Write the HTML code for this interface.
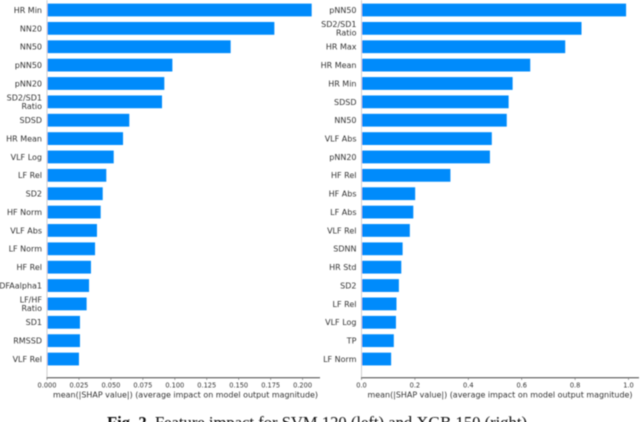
<!DOCTYPE html>
<html>
<head>
<meta charset="utf-8">
<style>
html,body{margin:0;padding:0;background:#fff;width:640px;height:422px;overflow:hidden}
svg{display:block}
text{font-family:"DejaVu Sans","Liberation Sans",sans-serif;fill:#333}
.cap{font-family:"Liberation Serif",serif;fill:#111}
</style>
</head>
<body>
<svg id="fig" xmlns="http://www.w3.org/2000/svg" width="640" height="422" viewBox="0 0 640 422">
<defs><filter id="soft" filterUnits="userSpaceOnUse" x="0" y="0" width="640" height="422"><feGaussianBlur stdDeviation="0.5"/></filter></defs>
<g id="plots" filter="url(#soft)"></g>
<text class="cap" filter="url(#soft)" x="317" y="428" text-anchor="middle" font-size="17" textLength="420" lengthAdjust="spacingAndGlyphs"><tspan font-weight="bold">Fig. 2.</tspan> Feature impact for SVM 120 (left) and XGB 150 (right)</text>
</svg>
<script>
const svmFeatures = ["HR Min","NN20","NN50","pNN50","pNN20","SD2/SD1\nRatio","SDSD","HR Mean","VLF Log","LF Rel","SD2","HF Norm","VLF Abs","LF Norm","HF Rel","DFAalpha1","LF/HF\nRatio","SD1","RMSSD","VLF Rel"];
const svmValues = [0.2071,0.1779,0.1437,0.0981,0.0918,0.0900,0.0644,0.0595,0.0522,0.0464,0.0436,0.0420,0.0391,0.0376,0.0344,0.0329,0.0310,0.0258,0.0258,0.0250];
const svmTicks = ["0.000","0.025","0.050","0.075","0.100","0.125","0.150","0.175","0.200"];
const xgbFeatures = ["pNN50","SD2/SD1\nRatio","HR Max","HR Mean","HR Min","SDSD","NN50","VLF Abs","pNN20","HF Rel","HF Abs","LF Abs","VLF Rel","SDNN","HR Std","SD2","LF Rel","VLF Log","TP","LF Norm"];
const xgbValues = [0.991,0.824,0.763,0.632,0.566,0.551,0.544,0.488,0.481,0.333,0.201,0.194,0.181,0.154,0.149,0.140,0.131,0.129,0.121,0.111];
const xgbTicks = ["0.0","0.2","0.4","0.6","0.8","1.0"];
const axisTitle = "mean(|SHAP value|) (average impact on model output magnitude)";

const NS = "http://www.w3.org/2000/svg";
const root = document.getElementById("plots");
function mk(tag, attrs, parent, txt) {
  const el = document.createElementNS(NS, tag);
  for (const k in attrs) el.setAttribute(k, attrs[k]);
  if (txt !== undefined) el.textContent = txt;
  parent.appendChild(el);
  return el;
}
function drawChart(cfg, features, values, ticks) {
  const g = mk("g", {}, root);
  
  
  const xs = v => cfg.x0 + v * cfg.scale;
  const ys = i => 10 + i * 18.37;
  const spine = mk("line", {x1: cfg.x0, x2: cfg.x0, y1: 0, y2: 378, stroke: "#cfcfcf", "stroke-width": 1}, g);
  
  
  values.forEach((v, i) => {
    const bar = mk("rect", {x: cfg.x0 + 0.5, y: ys(i) - 6.4, width: xs(v) - cfg.x0 - 0.5, height: 12.8, fill: "#008bfb"}, g);
    
    
    const lines = features[i].split("\n");
    lines.forEach((ln, j) => {
      const yy = ys(i) + 2.9 + (lines.length === 2 ? (j === 0 ? -4.4 : 4.4) : 0);
      const lab = mk("text", {x: cfg.x0 - 5, y: yy, "text-anchor": "end", "font-size": 8}, g, ln);
      
      
    });
  });
  const axis = mk("line", {x1: cfg.x0 - 0.5, x2: cfg.xEnd, y1: 377.7, y2: 377.7, stroke: "#444", "stroke-width": 1}, g);
  
  
  ticks.forEach(t => {
    const x = xs(parseFloat(t));
    const tk = mk("line", {x1: x, x2: x, y1: 377.7, y2: 380, stroke: "#666", "stroke-width": 0.6}, g);
    
    
    const tl = mk("text", {x: x, y: 387.3, "text-anchor": "middle", "font-size": 6.6}, g, t);
    
    
  });
  const title = mk("text", {x: cfg.titleX, y: 397.5, "text-anchor": "middle", "font-size": 8, textLength: 265, lengthAdjust: "spacingAndGlyphs"}, g, axisTitle);
  
  
}
drawChart({name: "svm-chart", x0: 47, scale: 1278, xEnd: 320, titleX: 185.5}, svmFeatures, svmValues, svmTicks);
drawChart({name: "xgb-chart", x0: 361.5, scale: 267, xEnd: 639, titleX: 500}, xgbFeatures, xgbValues, xgbTicks);
</script>
</body>
</html>
